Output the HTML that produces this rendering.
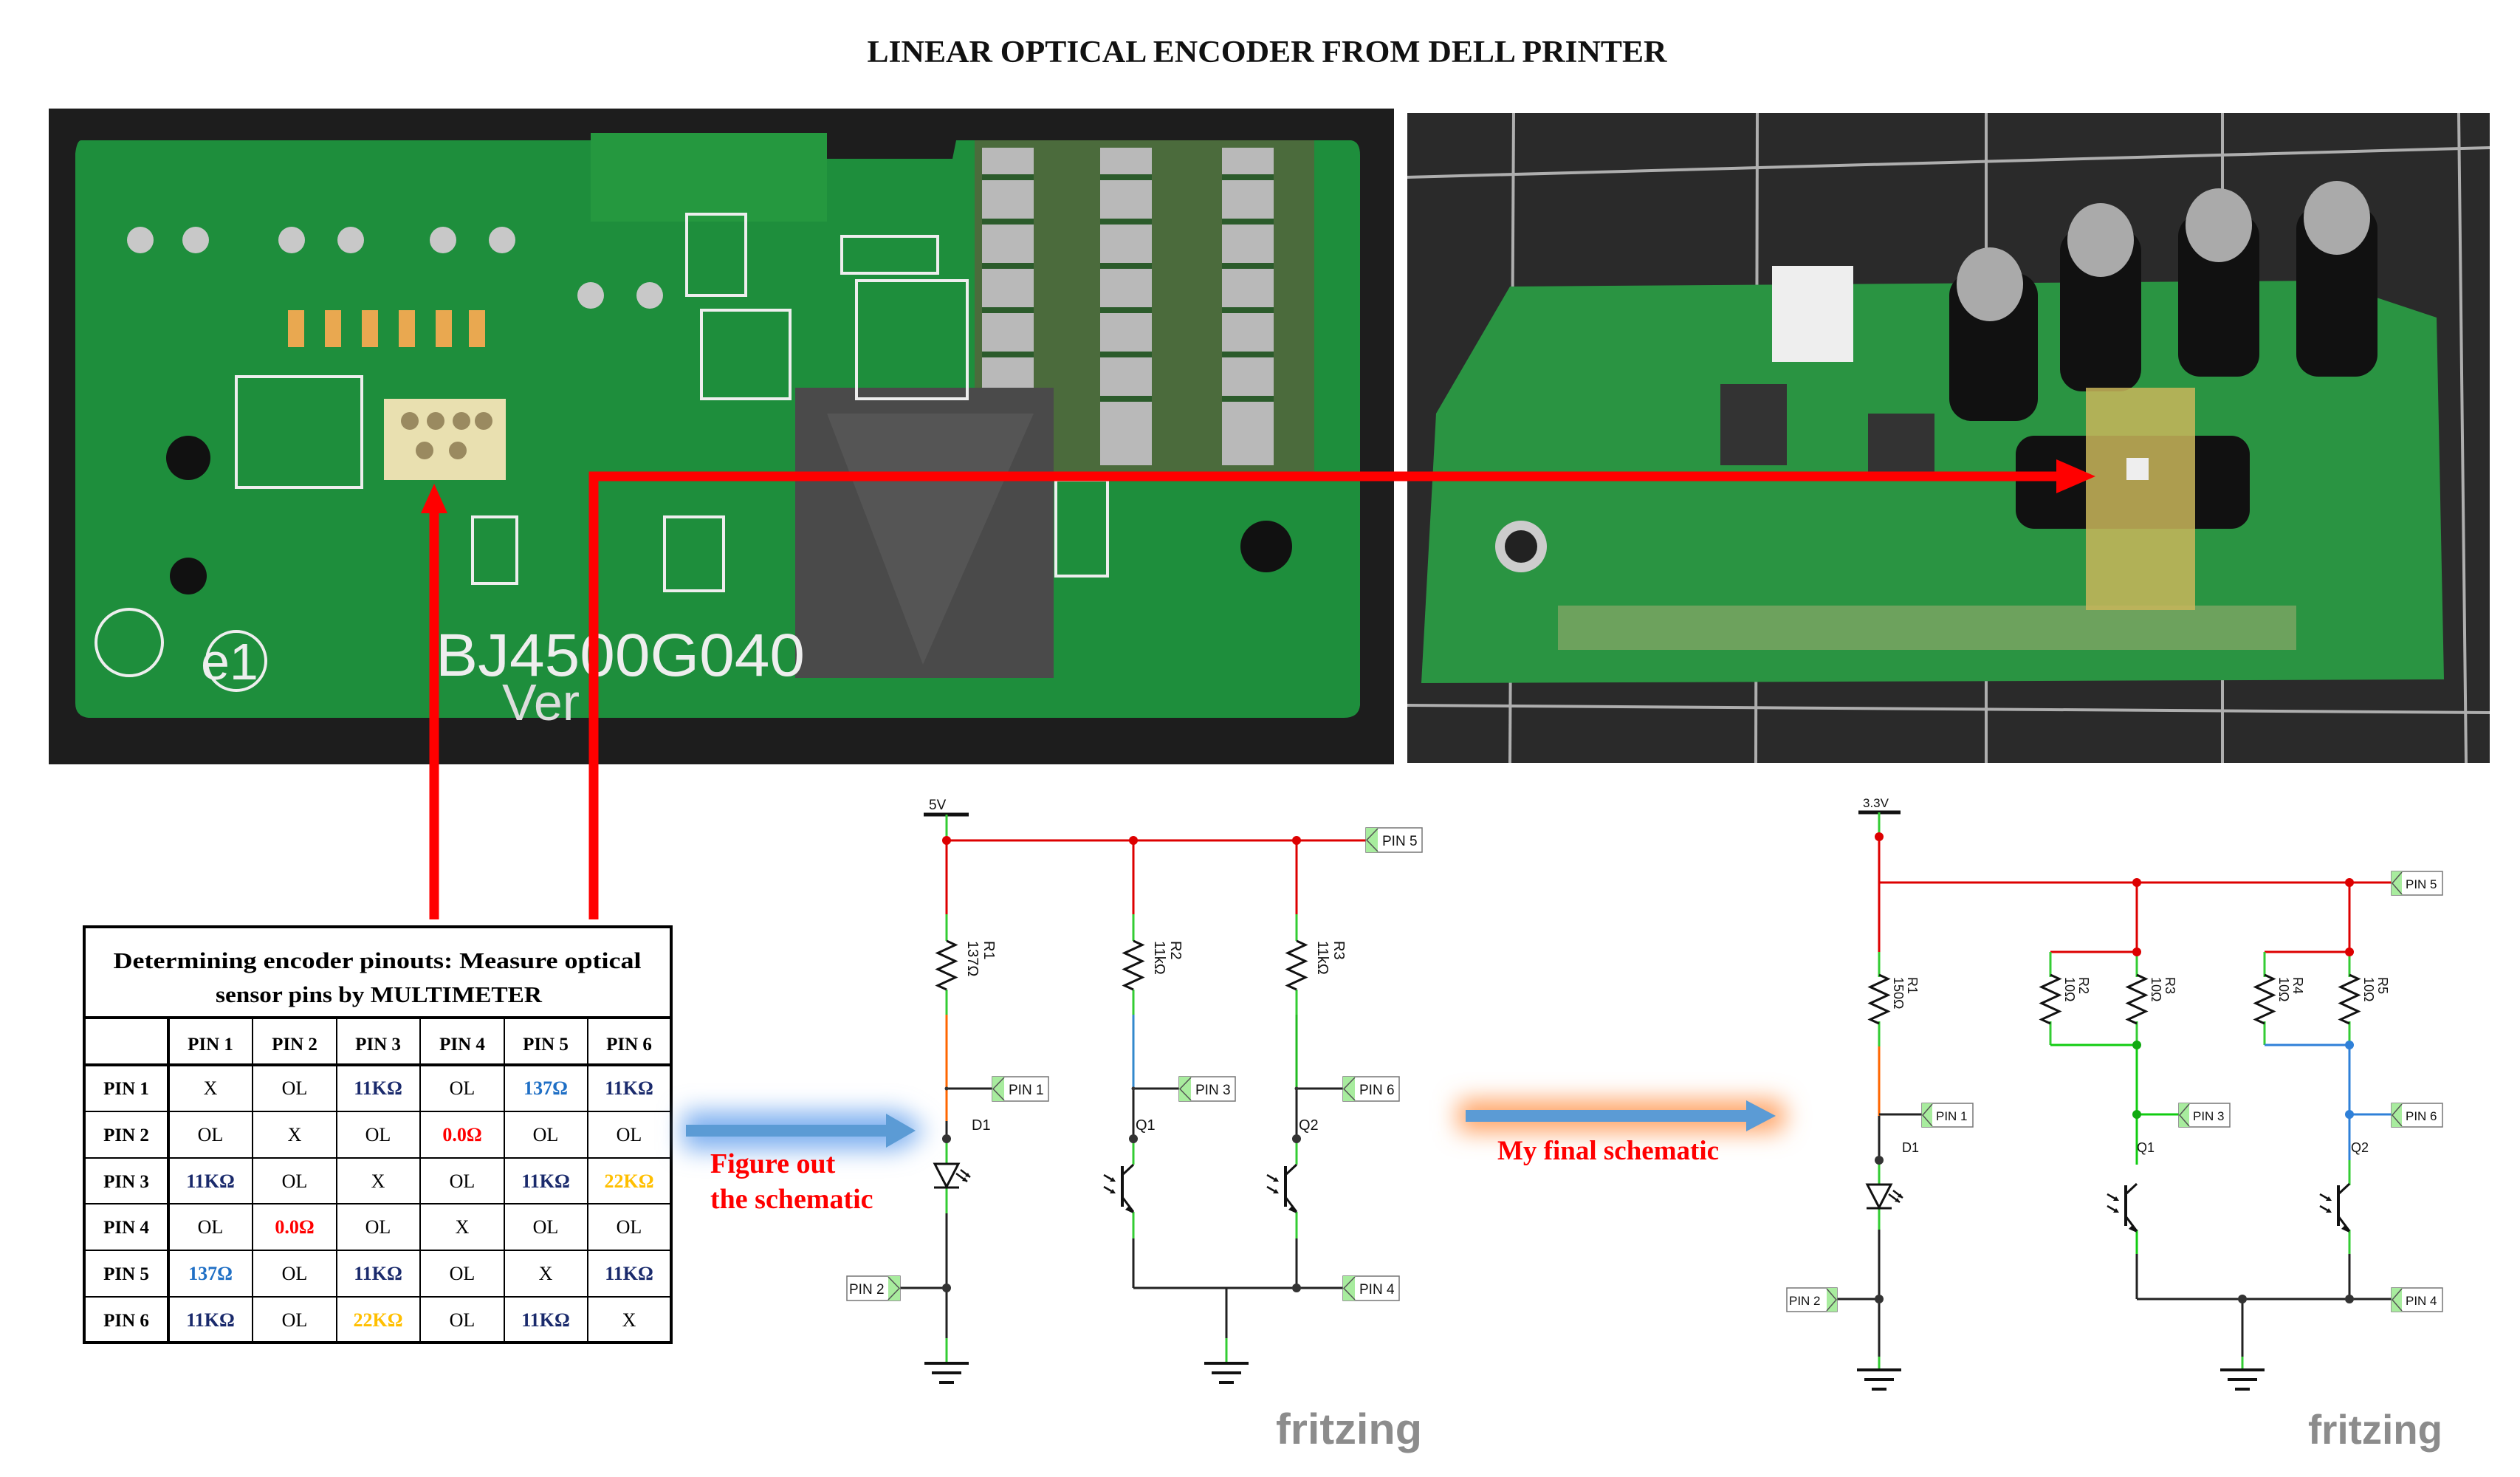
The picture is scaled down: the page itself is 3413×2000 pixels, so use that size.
<!DOCTYPE html>
<html><head><meta charset="utf-8"><style>
html,body{margin:0;padding:0;background:#fff;}
svg{display:block;}
text{font-family:"Liberation Sans",sans-serif;}
.s{font-family:"Liberation Serif",serif;}
</style></head><body>
<svg width="3413" height="2000" viewBox="0 0 3413 2000" xmlns="http://www.w3.org/2000/svg">
<defs>
<filter id="bl" x="-30%" y="-150%" width="160%" height="400%"><feGaussianBlur stdDeviation="16"/></filter>
<polyline id="zig" points="0,0 12,5.5 -12,16.5 12,27.5 -12,38.5 12,49.5 -12,60.5 0,66" fill="none" stroke="#111" stroke-width="3"/>
<g id="gnd" stroke="#111" stroke-width="4"><line x1="-30" y1="0" x2="30" y2="0"/><line x1="-20" y1="13" x2="20" y2="13"/><line x1="-10" y1="26" x2="10" y2="26"/></g>
<g id="led"><polygon points="-16,0 16,0 0,31" fill="#fff" stroke="#111" stroke-width="3"/><line x1="-17" y1="32" x2="17" y2="32" stroke="#111" stroke-width="3"/>
<path d="M13,13 L28,24 M19,8 L32,18" stroke="#111" stroke-width="2.5"/><path d="M28,24 l-7,-1 l4,-5z M32,18 l-7,-1 l4,-5z" fill="#111"/></g>
<g id="q"><line x1="-15" y1="0" x2="-15" y2="55" stroke="#111" stroke-width="4"/><line x1="-15" y1="12" x2="0" y2="-2" stroke="#111" stroke-width="3"/><line x1="-15" y1="42" x2="0" y2="62" stroke="#111" stroke-width="3"/><path d="M0,64 l-11,-5 l6,-6z" fill="#111"/>
<path d="M-40,12 L-26,20 M-40,28 L-26,36" stroke="#111" stroke-width="2.5"/><path d="M-24,21 l-8,0 l4,-6z M-24,37 l-8,0 l4,-6z" fill="#111"/></g>
</defs>

<text class="s" x="1716" y="84" text-anchor="middle" font-size="42" font-weight="bold" textLength="1083" lengthAdjust="spacingAndGlyphs" fill="#111">LINEAR OPTICAL ENCODER FROM DELL PRINTER</text>

<!-- Left photo -->
<rect x="66" y="147" width="1822" height="888" fill="#1d1d1d"/>
<path d="M110,190 L1115,190 L1120,215 L1290,215 L1295,190 L1830,190 Q1842,192 1842,210 L1842,955 Q1840,972 1820,972 L120,972 Q102,970 102,952 L102,208 Q104,190 110,190Z" fill="#1e8e3c"/>
<rect x="800" y="180" width="320" height="120" fill="#25983f"/>
<rect x="1320" y="190" width="460" height="450" fill="#4b6b3c"/>
<g fill="#b9b9b9">
<rect x="1330" y="200" width="70" height="430"/><rect x="1490" y="200" width="70" height="430"/><rect x="1655" y="200" width="70" height="430"/>
</g>
<g stroke="#2b5b2b" stroke-width="8"><line x1="1330" y1="240" x2="1400" y2="240"/><line x1="1330" y1="300" x2="1400" y2="300"/><line x1="1330" y1="360" x2="1400" y2="360"/><line x1="1330" y1="420" x2="1400" y2="420"/><line x1="1330" y1="480" x2="1400" y2="480"/><line x1="1330" y1="540" x2="1400" y2="540"/>
<line x1="1490" y1="240" x2="1560" y2="240"/><line x1="1490" y1="300" x2="1560" y2="300"/><line x1="1490" y1="360" x2="1560" y2="360"/><line x1="1490" y1="420" x2="1560" y2="420"/><line x1="1490" y1="480" x2="1560" y2="480"/><line x1="1490" y1="540" x2="1560" y2="540"/>
<line x1="1655" y1="240" x2="1725" y2="240"/><line x1="1655" y1="300" x2="1725" y2="300"/><line x1="1655" y1="360" x2="1725" y2="360"/><line x1="1655" y1="420" x2="1725" y2="420"/><line x1="1655" y1="480" x2="1725" y2="480"/><line x1="1655" y1="540" x2="1725" y2="540"/></g>
<rect x="1077" y="525" width="350" height="393" fill="#4a4a4a"/>
<path d="M1120,560 L1400,560 L1250,900 Z" fill="#555"/>
<g fill="#c8c8c8"><circle cx="190" cy="325" r="18"/><circle cx="265" cy="325" r="18"/><circle cx="395" cy="325" r="18"/><circle cx="475" cy="325" r="18"/><circle cx="600" cy="325" r="18"/><circle cx="680" cy="325" r="18"/><circle cx="800" cy="400" r="18"/><circle cx="880" cy="400" r="18"/></g>
<g fill="#111"><circle cx="255" cy="620" r="30"/><circle cx="255" cy="780" r="25"/><circle cx="1715" cy="740" r="35"/></g>
<rect x="520" y="540" width="165" height="110" fill="#e9e0b0"/>
<g fill="#9a8a60"><circle cx="555" cy="570" r="12"/><circle cx="590" cy="570" r="12"/><circle cx="625" cy="570" r="12"/><circle cx="655" cy="570" r="12"/><circle cx="575" cy="610" r="12"/><circle cx="620" cy="610" r="12"/></g>
<g fill="#e9a850"><rect x="390" y="420" width="22" height="50"/><rect x="440" y="420" width="22" height="50"/><rect x="490" y="420" width="22" height="50"/><rect x="540" y="420" width="22" height="50"/><rect x="590" y="420" width="22" height="50"/><rect x="635" y="420" width="22" height="50"/></g>
<g fill="none" stroke="#eee" stroke-width="4">
<rect x="320" y="510" width="170" height="150"/><rect x="930" y="290" width="80" height="110"/><rect x="1140" y="320" width="130" height="50"/><rect x="1160" y="380" width="150" height="160"/><rect x="950" y="420" width="120" height="120"/><rect x="640" y="700" width="60" height="90"/><rect x="900" y="700" width="80" height="100"/><rect x="1430" y="650" width="70" height="130"/>
<circle cx="175" cy="870" r="45"/><circle cx="320" cy="895" r="40"/></g>
<text x="590" y="915" font-size="82" fill="#eee" textLength="500" lengthAdjust="spacingAndGlyphs">BJ4500G040</text>
<text x="680" y="975" font-size="70" fill="#ddd">Ver</text>
<text x="272" y="920" font-size="70" fill="#eee">e1</text>

<!-- Right photo -->
<rect x="1906" y="153" width="1466" height="880" fill="#2a2a2a"/>
<g stroke="#cfcfcf" stroke-width="4" opacity="0.8">
<line x1="1906" y1="240" x2="3372" y2="200"/><line x1="1906" y1="955" x2="3372" y2="965"/>
<line x1="2050" y1="153" x2="2045" y2="1033"/><line x1="2380" y1="153" x2="2378" y2="1033"/><line x1="2690" y1="153" x2="2690" y2="1033"/><line x1="3010" y1="153" x2="3010" y2="1033"/><line x1="3330" y1="153" x2="3340" y2="1033"/></g>
<path d="M2045,388 L3150,380 L3300,430 L3310,920 L1925,925 L1945,560 Z" fill="#2a9442"/>
<rect x="2400" y="360" width="110" height="130" fill="#eee"/>
<rect x="2330" y="520" width="90" height="110" fill="#333"/><rect x="2530" y="560" width="90" height="80" fill="#333"/>
<rect x="2110" y="820" width="1000" height="60" fill="#8aa86a" opacity="0.7"/>
<circle cx="2060" cy="740" r="35" fill="#ccc"/><circle cx="2060" cy="740" r="22" fill="#222"/>
<rect x="2730" y="590" width="317" height="126" rx="25" fill="#111"/>
<g fill="#111"><rect x="2640" y="370" width="120" height="200" rx="30"/><rect x="2790" y="310" width="110" height="220" rx="30"/><rect x="2950" y="290" width="110" height="220" rx="30"/><rect x="3110" y="280" width="110" height="230" rx="30"/></g>
<g fill="#aaa"><ellipse cx="2695" cy="385" rx="45" ry="50"/><ellipse cx="2845" cy="325" rx="45" ry="50"/><ellipse cx="3005" cy="305" rx="45" ry="50"/><ellipse cx="3165" cy="295" rx="45" ry="50"/></g>
<rect x="2825" y="525" width="148" height="301" fill="#c9b65a" opacity="0.85"/>
<rect x="2880" y="620" width="30" height="30" fill="#eee"/>

<!-- Red arrows -->
<g stroke="#f00" stroke-width="13" fill="none">
<line x1="588" y1="1245" x2="588" y2="690"/>
<polyline points="804,1245 804,645 2790,645"/>
</g>
<polygon points="588,655 570,695 606,695" fill="#f00"/>
<polygon points="2838,645 2785,622 2785,668" fill="#f00"/>

<!-- Table -->
<g class="s">
<rect x="114" y="1255" width="795" height="563" fill="#fff" stroke="#000" stroke-width="4"/>
<line x1="114" y1="1378" x2="909" y2="1378" stroke="#000" stroke-width="4"/>
<line x1="114" y1="1442" x2="909" y2="1442" stroke="#000" stroke-width="4"/>
<g stroke="#000" stroke-width="2">
<line x1="114" y1="1505" x2="909" y2="1505"/><line x1="114" y1="1568" x2="909" y2="1568"/><line x1="114" y1="1630" x2="909" y2="1630"/><line x1="114" y1="1693" x2="909" y2="1693"/><line x1="114" y1="1756" x2="909" y2="1756"/>
<line x1="342" y1="1378" x2="342" y2="1818"/><line x1="456" y1="1378" x2="456" y2="1818"/><line x1="569" y1="1378" x2="569" y2="1818"/><line x1="683" y1="1378" x2="683" y2="1818"/><line x1="796" y1="1378" x2="796" y2="1818"/>
</g>
<line x1="228" y1="1378" x2="228" y2="1818" stroke="#000" stroke-width="4"/>
<text class="s" x="511" y="1311" text-anchor="middle" font-size="31" font-weight="bold" textLength="715" lengthAdjust="spacingAndGlyphs">Determining encoder pinouts: Measure optical</text>
<text class="s" x="513" y="1357" text-anchor="middle" font-size="31" font-weight="bold" textLength="442" lengthAdjust="spacingAndGlyphs">sensor pins by MULTIMETER</text>
<g font-size="25" font-weight="bold" text-anchor="middle">
<text class="s" x="285" y="1422">PIN 1</text><text class="s" x="399" y="1422">PIN 2</text><text class="s" x="512" y="1422">PIN 3</text><text class="s" x="626" y="1422">PIN 4</text><text class="s" x="739" y="1422">PIN 5</text><text class="s" x="852" y="1422">PIN 6</text>
<text class="s" x="171" y="1482">PIN 1</text><text class="s" x="171" y="1545">PIN 2</text><text class="s" x="171" y="1608">PIN 3</text><text class="s" x="171" y="1670">PIN 4</text><text class="s" x="171" y="1733">PIN 5</text><text class="s" x="171" y="1796">PIN 6</text>
</g>
<g font-size="26" text-anchor="middle">
<text class="s" x="285" y="1482">X</text><text class="s" x="399" y="1482">OL</text><text class="s" x="512" y="1482" fill="#1a2a6c" font-weight="bold">11KΩ</text><text class="s" x="626" y="1482">OL</text><text class="s" x="739" y="1482" fill="#1f6fc5" font-weight="bold">137Ω</text><text class="s" x="852" y="1482" fill="#1a2a6c" font-weight="bold">11KΩ</text>
<text class="s" x="285" y="1545">OL</text><text class="s" x="399" y="1545">X</text><text class="s" x="512" y="1545">OL</text><text class="s" x="626" y="1545" fill="#f00" font-weight="bold">0.0Ω</text><text class="s" x="739" y="1545">OL</text><text class="s" x="852" y="1545">OL</text>
<text class="s" x="285" y="1608" fill="#1a2a6c" font-weight="bold">11KΩ</text><text class="s" x="399" y="1608">OL</text><text class="s" x="512" y="1608">X</text><text class="s" x="626" y="1608">OL</text><text class="s" x="739" y="1608" fill="#1a2a6c" font-weight="bold">11KΩ</text><text class="s" x="852" y="1608" fill="#ffbf00" font-weight="bold">22KΩ</text>
<text class="s" x="285" y="1670">OL</text><text class="s" x="399" y="1670" fill="#f00" font-weight="bold">0.0Ω</text><text class="s" x="512" y="1670">OL</text><text class="s" x="626" y="1670">X</text><text class="s" x="739" y="1670">OL</text><text class="s" x="852" y="1670">OL</text>
<text class="s" x="285" y="1733" fill="#1f6fc5" font-weight="bold">137Ω</text><text class="s" x="399" y="1733">OL</text><text class="s" x="512" y="1733" fill="#1a2a6c" font-weight="bold">11KΩ</text><text class="s" x="626" y="1733">OL</text><text class="s" x="739" y="1733">X</text><text class="s" x="852" y="1733" fill="#1a2a6c" font-weight="bold">11KΩ</text>
<text class="s" x="285" y="1796" fill="#1a2a6c" font-weight="bold">11KΩ</text><text class="s" x="399" y="1796">OL</text><text class="s" x="512" y="1796" fill="#ffbf00" font-weight="bold">22KΩ</text><text class="s" x="626" y="1796">OL</text><text class="s" x="739" y="1796" fill="#1a2a6c" font-weight="bold">11KΩ</text><text class="s" x="852" y="1796">X</text>
</g>
</g>

<!-- Arrow 1 -->
<path d="M925,1505 L1220,1505 L1255,1531 L1220,1557 L925,1557Z" fill="#7fb0f0" filter="url(#bl)"/>
<path d="M929,1523 L1200,1523 L1200,1508 L1240,1531 L1200,1554 L1200,1539 L929,1539Z" fill="#5b9bd5"/>
<text class="s" x="962" y="1588" font-size="38" font-weight="bold" fill="#f00">Figure out</text>
<text class="s" x="962" y="1636" font-size="38" font-weight="bold" fill="#f00">the schematic</text>

<!-- Arrow 2 -->
<path d="M1975,1490 L2410,1490 L2420,1511 L2410,1532 L1975,1532Z" fill="#ffa060" filter="url(#bl)"/>
<path d="M1985,1503 L2365,1503 L2365,1490 L2405,1511 L2365,1532 L2365,1519 L1985,1519Z" fill="#5b9bd5"/>
<text class="s" x="2028" y="1570" font-size="37" font-weight="bold" fill="#f00">My final schematic</text>

<!-- Schematic 1 -->
<g fill="none" stroke-width="3">
<line x1="1251" y1="1103" x2="1312" y2="1103" stroke="#111" stroke-width="5"/>
<text x="1258" y="1096" font-size="19" fill="#111" stroke="none">5V</text>
<line x1="1282" y1="1103" x2="1282" y2="1138" stroke="#3c3"/>
<line x1="1282" y1="1138" x2="1850" y2="1138" stroke="#d00"/>
<line x1="1282" y1="1138" x2="1282" y2="1238" stroke="#d00"/>
<line x1="1535" y1="1138" x2="1535" y2="1238" stroke="#d00"/>
<line x1="1756" y1="1138" x2="1756" y2="1238" stroke="#d00"/>
<g stroke="#3c3"><line x1="1282" y1="1238" x2="1282" y2="1274"/><line x1="1282" y1="1340" x2="1282" y2="1374"/><line x1="1535" y1="1238" x2="1535" y2="1274"/><line x1="1535" y1="1340" x2="1535" y2="1374"/><line x1="1756" y1="1238" x2="1756" y2="1274"/><line x1="1756" y1="1340" x2="1756" y2="1374"/></g>
<use href="#zig" x="1282" y="1274"/><use href="#zig" x="1535" y="1274"/><use href="#zig" x="1756" y="1274"/>
<line x1="1282" y1="1374" x2="1282" y2="1518" stroke="#f60"/>
<line x1="1535" y1="1374" x2="1535" y2="1474" stroke="#38c"/>
<line x1="1756" y1="1374" x2="1756" y2="1474" stroke="#2b2"/>
<g stroke="#222"><line x1="1282" y1="1518" x2="1282" y2="1542"/><line x1="1535" y1="1474" x2="1535" y2="1542"/><line x1="1756" y1="1474" x2="1756" y2="1542"/>
<line x1="1282" y1="1474" x2="1344" y2="1474"/><line x1="1535" y1="1474" x2="1597" y2="1474"/><line x1="1756" y1="1474" x2="1819" y2="1474"/>
<line x1="1282" y1="1643" x2="1282" y2="1812"/><line x1="1219" y1="1744" x2="1282" y2="1744"/>
<line x1="1535" y1="1677" x2="1535" y2="1744"/><line x1="1756" y1="1677" x2="1756" y2="1744"/><line x1="1535" y1="1744" x2="1819" y2="1744"/><line x1="1661" y1="1744" x2="1661" y2="1812"/></g>
<g stroke="#3c3"><line x1="1282" y1="1542" x2="1282" y2="1575"/><line x1="1282" y1="1608" x2="1282" y2="1643"/><line x1="1535" y1="1542" x2="1535" y2="1577"/><line x1="1535" y1="1641" x2="1535" y2="1677"/><line x1="1756" y1="1542" x2="1756" y2="1577"/><line x1="1756" y1="1641" x2="1756" y2="1677"/><line x1="1282" y1="1812" x2="1282" y2="1845"/><line x1="1661" y1="1812" x2="1661" y2="1845"/></g>
</g>
<g fill="#d00"><circle cx="1282" cy="1138" r="6"/><circle cx="1535" cy="1138" r="6"/><circle cx="1756" cy="1138" r="6"/></g>
<g fill="#333"><circle cx="1282" cy="1542" r="6"/><circle cx="1535" cy="1542" r="6"/><circle cx="1756" cy="1542" r="6"/><circle cx="1282" cy="1744" r="6"/><circle cx="1756" cy="1744" r="6"/><circle cx="1282" cy="1474" r="2.5"/><circle cx="1535" cy="1474" r="2.5"/><circle cx="1756" cy="1474" r="2.5"/></g>
<use href="#led" x="1282" y="1576"/>
<use href="#q" x="1535" y="1579"/><use href="#q" x="1756" y="1579"/>
<use href="#gnd" x="1282" y="1846"/><use href="#gnd" x="1661" y="1846"/>
<g font-size="20" fill="#111">
<text transform="translate(1333,1274) rotate(90)">R1</text><text transform="translate(1311,1274) rotate(90)">137Ω</text>
<text transform="translate(1586,1274) rotate(90)">R2</text><text transform="translate(1564,1274) rotate(90)">11kΩ</text>
<text transform="translate(1807,1274) rotate(90)">R3</text><text transform="translate(1785,1274) rotate(90)">11kΩ</text>
<text x="1316" y="1530">D1</text><text x="1538" y="1530">Q1</text><text x="1759" y="1530">Q2</text>
</g>

<g font-size="19" fill="#111">
<g transform="translate(1850,1121)"><rect x="0" y="0" width="76" height="33" fill="#fff" stroke="#777" stroke-width="1.5"/><rect x="0" y="0" width="16" height="33" fill="#a8ec9e"/><polyline points="16,1 1,16.5 16,32" fill="none" stroke="#555" stroke-width="1.5"/><text x="22" y="24">PIN 5</text></g>
<g transform="translate(1344,1458)"><rect x="0" y="0" width="76" height="33" fill="#fff" stroke="#777" stroke-width="1.5"/><rect x="0" y="0" width="16" height="33" fill="#a8ec9e"/><polyline points="16,1 1,16.5 16,32" fill="none" stroke="#555" stroke-width="1.5"/><text x="22" y="24">PIN 1</text></g>
<g transform="translate(1597,1458)"><rect x="0" y="0" width="76" height="33" fill="#fff" stroke="#777" stroke-width="1.5"/><rect x="0" y="0" width="16" height="33" fill="#a8ec9e"/><polyline points="16,1 1,16.5 16,32" fill="none" stroke="#555" stroke-width="1.5"/><text x="22" y="24">PIN 3</text></g>
<g transform="translate(1819,1458)"><rect x="0" y="0" width="76" height="33" fill="#fff" stroke="#777" stroke-width="1.5"/><rect x="0" y="0" width="16" height="33" fill="#a8ec9e"/><polyline points="16,1 1,16.5 16,32" fill="none" stroke="#555" stroke-width="1.5"/><text x="22" y="24">PIN 6</text></g>
<g transform="translate(1819,1728)"><rect x="0" y="0" width="76" height="33" fill="#fff" stroke="#777" stroke-width="1.5"/><rect x="0" y="0" width="16" height="33" fill="#a8ec9e"/><polyline points="16,1 1,16.5 16,32" fill="none" stroke="#555" stroke-width="1.5"/><text x="22" y="24">PIN 4</text></g>
<g transform="translate(1147,1728)"><rect x="0" y="0" width="72" height="33" fill="#fff" stroke="#777" stroke-width="1.5"/><rect x="56" y="0" width="16" height="33" fill="#a8ec9e"/><polyline points="56,1 71,16.5 56,32" fill="none" stroke="#555" stroke-width="1.5"/><text x="3" y="24">PIN 2</text></g>
</g>
<text x="1728" y="1955" font-size="58" font-weight="bold" fill="#8c8c8c" textLength="198" lengthAdjust="spacingAndGlyphs">fritzing</text>

<!-- Schematic 2 -->
<g fill="none" stroke-width="3">
<line x1="2517" y1="1100" x2="2574" y2="1100" stroke="#111" stroke-width="5"/>
<text x="2523" y="1093" font-size="17" fill="#111" stroke="none">3.3V</text>
<line x1="2545" y1="1100" x2="2545" y2="1133" stroke="#3c3"/>
<g stroke="#d00"><line x1="2545" y1="1133" x2="2545" y2="1289"/><line x1="2545" y1="1195" x2="3239" y2="1195"/><line x1="2894" y1="1195" x2="2894" y2="1289"/><line x1="3182" y1="1195" x2="3182" y2="1289"/><line x1="2777" y1="1289" x2="2894" y2="1289"/><line x1="3067" y1="1289" x2="3182" y2="1289"/></g>
<g stroke="#3c3"><line x1="2545" y1="1289" x2="2545" y2="1323"/><line x1="2545" y1="1383" x2="2545" y2="1417"/>
<line x1="2777" y1="1289" x2="2777" y2="1323"/><line x1="2777" y1="1383" x2="2777" y2="1415"/><line x1="2894" y1="1289" x2="2894" y2="1323"/><line x1="2894" y1="1383" x2="2894" y2="1415"/>
<line x1="3067" y1="1289" x2="3067" y2="1323"/><line x1="3067" y1="1383" x2="3067" y2="1415"/><line x1="3182" y1="1289" x2="3182" y2="1323"/><line x1="3182" y1="1383" x2="3182" y2="1415"/></g>
<use href="#zig" x="2545" y="1320"/>
<use href="#zig" x="2777" y="1320"/><use href="#zig" x="2894" y="1320"/><use href="#zig" x="3067" y="1320"/><use href="#zig" x="3182" y="1320"/>
<g stroke="#1c1"><line x1="2777" y1="1415" x2="2894" y2="1415"/><line x1="2894" y1="1415" x2="2894" y2="1577"/><line x1="2894" y1="1509" x2="2951" y2="1509"/><line x1="2894" y1="1665" x2="2894" y2="1698"/></g>
<g stroke="#2f80d8"><line x1="3067" y1="1415" x2="3182" y2="1415"/><line x1="3182" y1="1415" x2="3182" y2="1571"/><line x1="3182" y1="1509" x2="3239" y2="1509"/></g>
<line x1="2545" y1="1417" x2="2545" y2="1511" stroke="#f60"/>
<g stroke="#3c3"><line x1="2545" y1="1571" x2="2545" y2="1603"/><line x1="2545" y1="1635" x2="2545" y2="1665"/><line x1="2545" y1="1837" x2="2545" y2="1854"/><line x1="3037" y1="1837" x2="3037" y2="1854"/><line x1="3182" y1="1571" x2="3182" y2="1605"/><line x1="3182" y1="1665" x2="3182" y2="1698"/></g>
<g stroke="#222"><line x1="2545" y1="1509" x2="2603" y2="1509"/><line x1="2545" y1="1511" x2="2545" y2="1571"/><line x1="2545" y1="1665" x2="2545" y2="1837"/><line x1="2488" y1="1759" x2="2545" y2="1759"/>
<line x1="2894" y1="1698" x2="2894" y2="1759"/><line x1="3182" y1="1698" x2="3182" y2="1759"/><line x1="2894" y1="1759" x2="3239" y2="1759"/><line x1="3037" y1="1759" x2="3037" y2="1837"/></g>
</g>
<g fill="#d00"><circle cx="2545" cy="1133" r="6"/><circle cx="2894" cy="1195" r="6"/><circle cx="3182" cy="1195" r="6"/><circle cx="2894" cy="1289" r="6"/><circle cx="3182" cy="1289" r="6"/></g>
<g fill="#1a1"><circle cx="2894" cy="1415" r="6"/><circle cx="2894" cy="1509" r="6"/></g>
<g fill="#2f80d8"><circle cx="3182" cy="1415" r="6"/><circle cx="3182" cy="1509" r="6"/></g>
<g fill="#333"><circle cx="2545" cy="1571" r="6"/><circle cx="2545" cy="1759" r="6"/><circle cx="3037" cy="1759" r="6"/><circle cx="3182" cy="1759" r="6"/></g>
<use href="#led" x="2545" y="1604"/>
<use href="#q" x="2894" y="1605"/><use href="#q" x="3182" y="1605"/>
<use href="#gnd" x="2545" y="1855"/><use href="#gnd" x="3037" y="1855"/>
<g font-size="18" fill="#111">
<text transform="translate(2584,1323) rotate(90)">R1</text><text transform="translate(2565,1323) rotate(90)">150Ω</text>
<text transform="translate(2816,1323) rotate(90)">R2</text><text transform="translate(2797,1323) rotate(90)">10Ω</text>
<text transform="translate(2933,1323) rotate(90)">R3</text><text transform="translate(2914,1323) rotate(90)">10Ω</text>
<text transform="translate(3106,1323) rotate(90)">R4</text><text transform="translate(3087,1323) rotate(90)">10Ω</text>
<text transform="translate(3221,1323) rotate(90)">R5</text><text transform="translate(3202,1323) rotate(90)">10Ω</text>
<text x="2576" y="1560">D1</text><text x="2894" y="1560">Q1</text><text x="3184" y="1560">Q2</text>
</g>
<g font-size="17" fill="#111">
<g transform="translate(3239,1180)"><rect x="0" y="0" width="69" height="32" fill="#fff" stroke="#777" stroke-width="1.5"/><rect x="0" y="0" width="14" height="32" fill="#a8ec9e"/><polyline points="14,1 1,16 14,31" fill="none" stroke="#555" stroke-width="1.5"/><text x="19" y="23">PIN 5</text></g>
<g transform="translate(2603,1494)"><rect x="0" y="0" width="69" height="32" fill="#fff" stroke="#777" stroke-width="1.5"/><rect x="0" y="0" width="14" height="32" fill="#a8ec9e"/><polyline points="14,1 1,16 14,31" fill="none" stroke="#555" stroke-width="1.5"/><text x="19" y="23">PIN 1</text></g>
<g transform="translate(2951,1494)"><rect x="0" y="0" width="69" height="32" fill="#fff" stroke="#777" stroke-width="1.5"/><rect x="0" y="0" width="14" height="32" fill="#a8ec9e"/><polyline points="14,1 1,16 14,31" fill="none" stroke="#555" stroke-width="1.5"/><text x="19" y="23">PIN 3</text></g>
<g transform="translate(3239,1494)"><rect x="0" y="0" width="69" height="32" fill="#fff" stroke="#777" stroke-width="1.5"/><rect x="0" y="0" width="14" height="32" fill="#a8ec9e"/><polyline points="14,1 1,16 14,31" fill="none" stroke="#555" stroke-width="1.5"/><text x="19" y="23">PIN 6</text></g>
<g transform="translate(3239,1744)"><rect x="0" y="0" width="69" height="32" fill="#fff" stroke="#777" stroke-width="1.5"/><rect x="0" y="0" width="14" height="32" fill="#a8ec9e"/><polyline points="14,1 1,16 14,31" fill="none" stroke="#555" stroke-width="1.5"/><text x="19" y="23">PIN 4</text></g>
<g transform="translate(2420,1744)"><rect x="0" y="0" width="68" height="32" fill="#fff" stroke="#777" stroke-width="1.5"/><rect x="54" y="0" width="14" height="32" fill="#a8ec9e"/><polyline points="54,1 67,16 54,31" fill="none" stroke="#555" stroke-width="1.5"/><text x="3" y="23">PIN 2</text></g>
</g>
<text x="3126" y="1955" font-size="56" font-weight="bold" fill="#8c8c8c" textLength="182" lengthAdjust="spacingAndGlyphs">fritzing</text>
</svg>
</body></html>
